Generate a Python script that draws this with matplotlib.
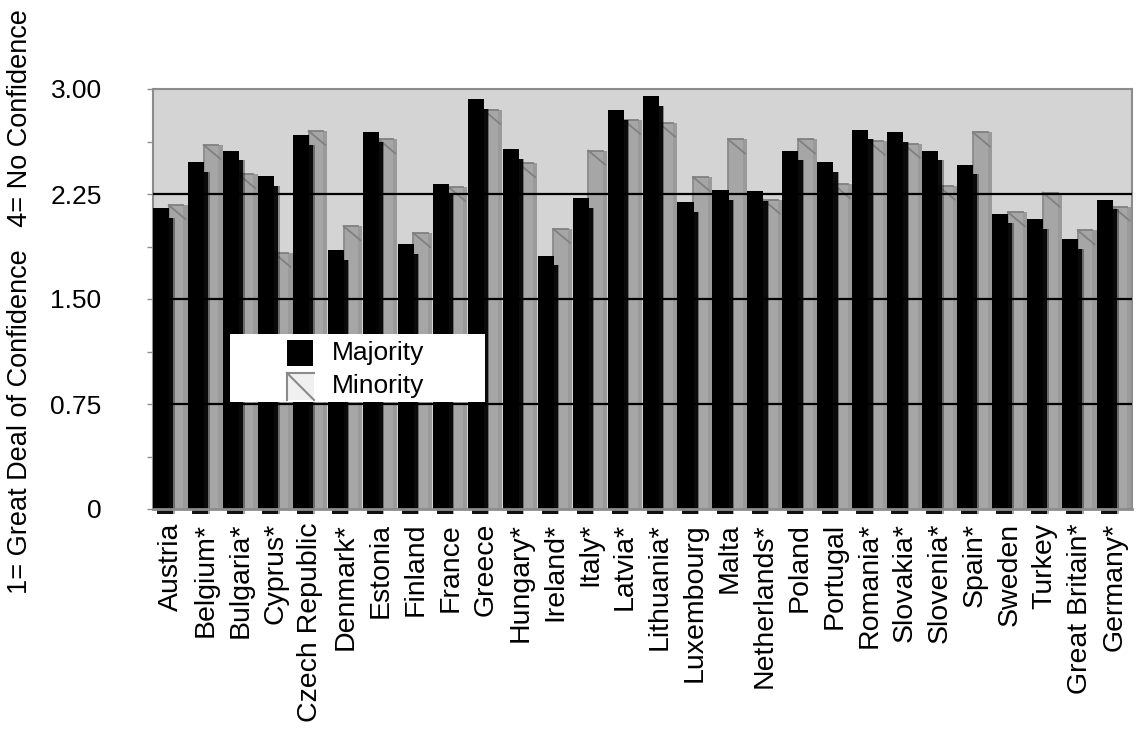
import matplotlib
matplotlib.use("Agg")
import matplotlib.pyplot as plt
import numpy as np
from matplotlib.patches import Rectangle

countries = ["Austria", "Belgium*", "Bulgaria*", "Cyprus*", "Czech Republic", "Denmark*",
             "Estonia", "Finland", "France", "Greece", "Hungary*", "Ireland*", "Italy*",
             "Latvia*", "Lithuania*", "Luxembourg", "Malta", "Netherlands*", "Poland",
             "Portugal", "Romania*", "Slovakia*", "Slovenia*", "Spain*", "Sweden", "Turkey",
             "Great Britain*", "Germany*"]
majority = [2.15, 2.48, 2.56, 2.38, 2.67, 1.85, 2.69, 1.89, 2.32, 2.93, 2.57, 1.81, 2.22,
            2.85, 2.95, 2.19, 2.28, 2.27, 2.56, 2.48, 2.71, 2.69, 2.56, 2.46, 2.11, 2.07,
            1.93, 2.21]
minority = [2.17, 2.60, 2.39, 1.83, 2.70, 2.02, 2.64, 1.97, 2.30, 2.85, 2.47, 2.00, 2.56,
            2.78, 2.76, 2.37, 2.64, 2.21, 2.64, 2.32, 2.63, 2.61, 2.31, 2.69, 2.12, 2.26,
            1.99, 2.16]
yticks = [0, 0.75, 1.50, 2.25, 3.00]
yticklabels = ["0", "0.75", "1.50", "2.25", "3.00"]

plt.rcParams['font.family'] = ['Liberation Sans', 'DejaVu Sans']

fig = plt.figure(figsize=(11.39, 7.29), dpi=100)
ax = fig.add_axes([153/1139, 1 - 509/729, (1132-153)/1139, (509-89)/729])
ax.set_facecolor('#d4d4d4')

n = len(countries)
x = np.arange(n)
wmaj = 0.46
wmin = 0.54
off = 0.035

# minority bars
ax.bar(x + 0.45, minority, width=wmin, align='edge', color='#a6a6a6', zorder=2)
ax.bar(x + 0.45 + wmin - 0.12, minority, width=0.12, align='edge', color='#9a9a9a', zorder=2)
for xi, v in zip(x, minority):
    ax.plot([xi + 0.45, xi + 0.45], [0, v], color='#8a8a8a', lw=1.3, zorder=2.5, solid_capstyle='butt')
    ax.plot([xi + 0.45, xi + 0.45 + 0.42], [v, v], color='#808080', lw=1.3, zorder=2.5)
    ax.plot([xi + 0.45, xi + 0.45 + 0.48], [v, v - 0.1], color='#808080', lw=1.3, zorder=2.5)

# majority shadow (soft)
for dx, a in [(0.16, 0.35), (0.12, 0.9)]:
    ax.bar(x + dx, [m - off for m in majority], bottom=-off, width=wmaj, align='edge',
           color='black', alpha=a, zorder=3, clip_on=False)
# majority front
ax.bar(x, majority, width=wmaj, align='edge', color='black', zorder=4)

# grid lines
for y in [0.75, 1.50, 2.25]:
    ax.axhline(y, color='black', lw=1.6, zorder=5)

ax.set_xlim(0, n)
ax.set_ylim(0, 3.0)
ax.set_yticks(yticks)
ax.set_yticklabels(yticklabels, fontsize=19)
ax.set_yticks(np.arange(0, 3.01, 0.375), minor=True)
ax.tick_params(axis='y', which='both', length=4, width=1, color='#909090', pad=33)
ax.set_xticks(x + 0.5)
ax.set_xticklabels(countries, rotation=90, fontsize=20.5, va='top', ha='center')
ax.tick_params(axis='x', length=0, pad=10)

for s in ['top', 'right', 'left']:
    ax.spines[s].set_color('#8c8c8c')
    ax.spines[s].set_linewidth(1.5)
ax.spines['bottom'].set_color('#8c8c8c')
ax.spines['bottom'].set_linewidth(2)
ax.spines['bottom'].set_zorder(6)

fig.text(20/1139, 1 - 302/729, "1= Great Deal of Confidence   4= No Confidence",
         rotation=90, ha='center', va='center', fontsize=19.5)

# legend
lx0, ly0, lx1, ly1 = 230, 334, 485, 402
def fx(px):
    return px / 1139
def fy(py):
    return 1 - py / 729
fig.patches.append(Rectangle((fx(lx0), fy(ly1)), fx(lx1) - fx(lx0), fy(ly0) - fy(ly1),
                             transform=fig.transFigure, facecolor='white', edgecolor='none', zorder=10))
fig.patches.append(Rectangle((fx(287), fy(366)), fx(313) - fx(287), fy(340) - fy(366),
                             transform=fig.transFigure, facecolor='black', edgecolor='none', zorder=11))
fig.patches.append(Rectangle((fx(287), fy(400)), fx(314) - fx(287), fy(373) - fy(400),
                             transform=fig.transFigure, facecolor='#f0f0f0', edgecolor='none', zorder=11))
fig.lines.append(plt.Line2D([fx(287), fx(287), fx(314)], [fy(400), fy(373), fy(373)],
                            transform=fig.transFigure, color='#8a8a8a', lw=1.5, zorder=12))
fig.lines.append(plt.Line2D([fx(287), fx(314)], [fy(373), fy(400)],
                            transform=fig.transFigure, color='#8a8a8a', lw=1.5, zorder=12))
fig.text(fx(332), fy(353), "Majority", fontsize=19, va='center', ha='left', zorder=13)
fig.text(fx(332), fy(386), "Minority", fontsize=19, va='center', ha='left', zorder=13)

fig.savefig("out.png", dpi=100, facecolor='white')
